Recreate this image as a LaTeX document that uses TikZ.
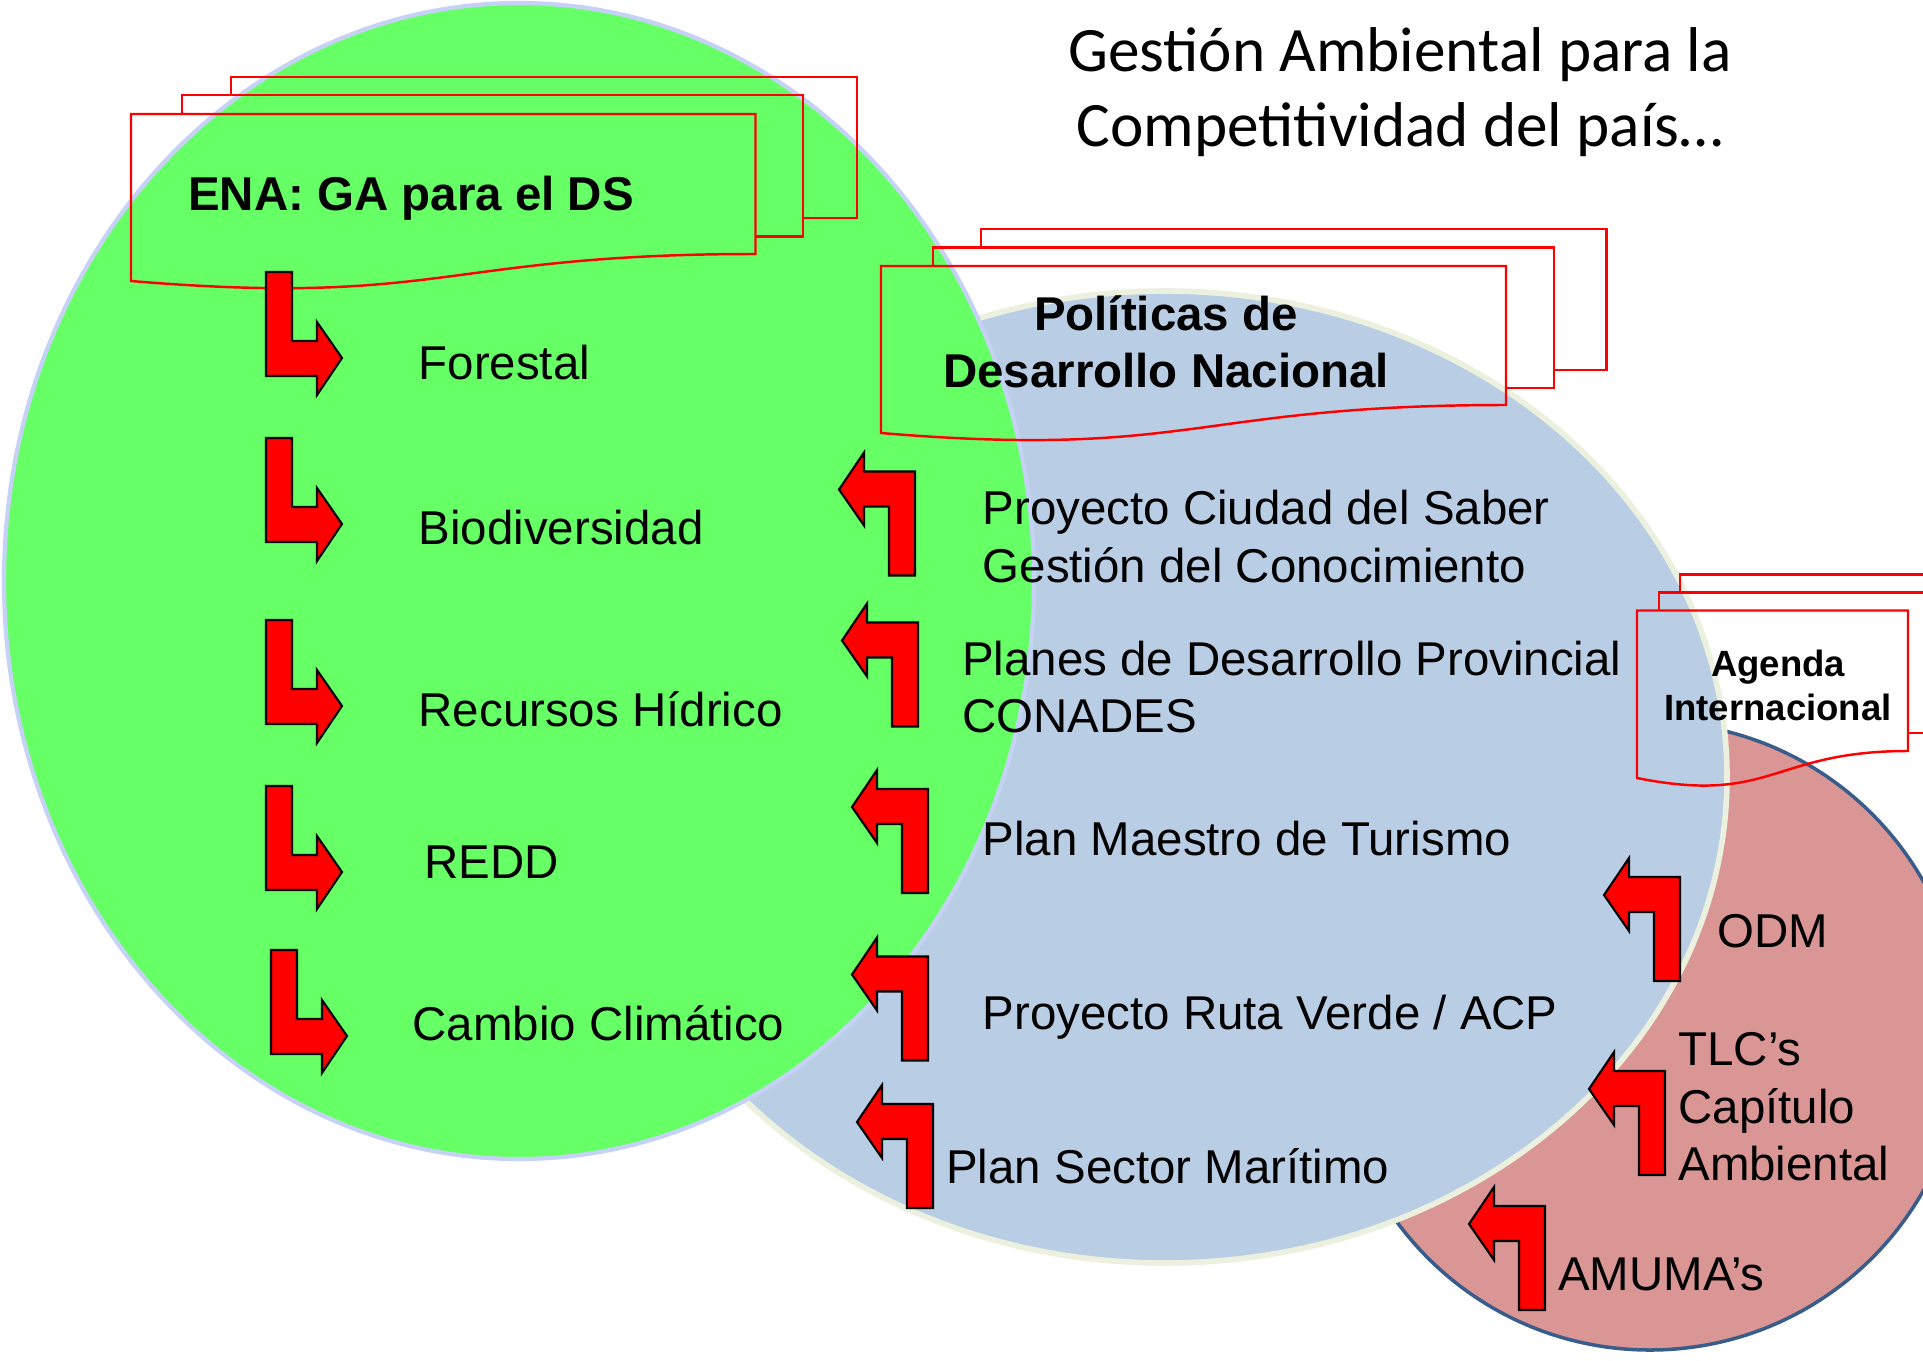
\documentclass[tikz,border=0pt]{standalone}
\usepackage{fontspec}
\setmainfont{Liberation Sans}
\newfontfamily\titlefont{Carlito}
\usetikzlibrary{positioning}

% Colours of the three sets
\definecolor{setgreen}{RGB}{102,255,102}
\definecolor{setgreenline}{RGB}{198,210,245}
\definecolor{setblue}{RGB}{185,205,229}
\definecolor{setblueline}{RGB}{235,241,222}
\definecolor{setred}{RGB}{217,150,148}
\definecolor{setredline}{RGB}{56,93,138}

\tikzset{
	% bent block arrow, outer corner at the origin (down, then right)
	bentarrow/.pic={
		\draw[fill=red, draw=black, line width=0.6pt, line join=miter]
		(0,0) -- (0,-104) -- (26,-104) -- (26,-35) -- (51,-35) -- (51,-54)
		-- (76,-18) -- (51,19) -- (51,0) -- cycle;
	},
	docline/.style={draw=red, line width=0.7pt},
	itemtext/.style={inner sep=0pt, align=left, font=\fontsize{13.5}{16.4}\selectfont},
	doctext/.style={inner sep=0pt, align=center, font=\bfseries\fontsize{13.5}{16.4}\selectfont},
}

\begin{document}
\begin{tikzpicture}[x=0.1mm, y=-0.1mm] % one unit is one pixel of the slide, y runs downwards
	
	\useasboundingbox (0,0) rectangle (1923,1361);
	
	% The three sets, back to front
	\draw[fill=setred, draw=setredline, line width=1pt] (1650,1036) circle [radius=314];
	\draw[fill=setblue, draw=setblueline, line width=1.6pt] (1165,777) ellipse [x radius=562, y radius=486];
	\draw[fill=setgreen, draw=setgreenline, line width=1.2pt] (519,581) ellipse [x radius=515, y radius=578];
	
	% Title
	\node[inner sep=0pt, align=center, font=\titlefont\fontsize{18}{21.3}\selectfont] (title) at (1400,92)
	{Gestión Ambiental para la\\Competitividad del país…};
	
	% Multidocument: ENA
	\draw[docline] (755.5,254) .. controls (443,254) and (443,307) .. (131,281) -- (131,114) -- (755.5,114) -- cycle;
	\draw[docline] (182,114) -- (182,95) -- (803,95) -- (803,236.5) -- (755.5,236.5);
	\draw[docline] (231,95) -- (231,77) -- (857,77) -- (857,218) -- (803,218);
	\node[doctext, anchor=base west] (ena) at (187.6,210) {ENA: GA para el DS};
	
	% Multidocument: politicas nacionales
	\draw[docline] (1506,405) .. controls (1193,405) and (1193,459) .. (881,433) -- (881,266) -- (1506,266) -- cycle;
	\draw[docline] (933,266) -- (933,247.5) -- (1554,247.5) -- (1554,388) -- (1506,388);
	\draw[docline] (981,247.5) -- (981,229) -- (1606.5,229) -- (1606.5,370) -- (1554,370);
	\node[doctext] (pdn) at (1166,342) {Políticas de\\Desarrollo Nacional};
	
	% Multidocument: agenda internacional
	\draw[docline] (1908,751) .. controls (1772,751) and (1772,805) .. (1637,778) -- (1637,610.5) -- (1908,610.5) -- cycle;
	\draw[docline] (1659,610.5) -- (1659,592.3) -- (1930,592.3) -- (1930,733) -- (1908,733);
	\draw[docline] (1680,592.3) -- (1680,574.3) -- (1951,574.3) -- (1951,715) -- (1930,715);
	\node[inner sep=0pt, align=center, font=\bfseries\fontsize{10.4}{12.5}\selectfont] (agenda) at (1778,685)
	{Agenda\\Internacional};
	
	% Arrows into the ENA
	\pic at (266,376) {bentarrow};
	\pic at (266,542) {bentarrow};
	\pic at (266,724) {bentarrow};
	\pic at (266,890) {bentarrow};
	\pic at (271,1054) {bentarrow};
	
	\node[itemtext, anchor=base west] (forestal) at (418,379) {Forestal};
	\node[itemtext, anchor=base west] (biodiv) at (418,544) {Biodiversidad};
	\node[itemtext, anchor=base west] (hidrico) at (418,726) {Recursos Hídrico};
	\node[itemtext, anchor=base west] (redd) at (424,878) {REDD};
	\node[itemtext, anchor=base west] (clima) at (412,1040) {Cambio Climático};
	
	% Arrows out of the national policies
	\pic[rotate=180] at (915,471.5) {bentarrow};
	\pic[rotate=180] at (918,622.5) {bentarrow};
	\pic[rotate=180] at (928,789) {bentarrow};
	\pic[rotate=180] at (928,956.5) {bentarrow};
	\pic[rotate=180] at (933,1104) {bentarrow};
	
	\node[itemtext, anchor=west] (saber) at (982,536.5) {Proyecto Ciudad del Saber\\Gestión del Conocimiento};
	\node[itemtext, anchor=west] (planes) at (961.5,687) {Planes de Desarrollo Provincial\\CONADES};
	\node[itemtext, anchor=base west] (turismo) at (982,855) {Plan Maestro de Turismo};
	\node[itemtext, anchor=base west] (ruta) at (982,1029) {Proyecto Ruta Verde / ACP};
	\node[itemtext, anchor=base west] (maritimo) at (945.6,1183) {Plan Sector Marítimo};
	
	% Arrows out of the international agenda
	\pic[rotate=180] at (1680,877) {bentarrow};
	\pic[rotate=180] at (1665,1071) {bentarrow};
	\pic[rotate=180] at (1545,1206) {bentarrow};
	
	\node[itemtext, anchor=base west] (odm) at (1717,947) {ODM};
	\node[itemtext, anchor=west] (tlc) at (1677.7,1107) {TLC’s\\Capítulo\\Ambiental};
	\node[itemtext, anchor=base west] (amuma) at (1557.5,1290) {AMUMA’s};
	
\end{tikzpicture}
\end{document}
